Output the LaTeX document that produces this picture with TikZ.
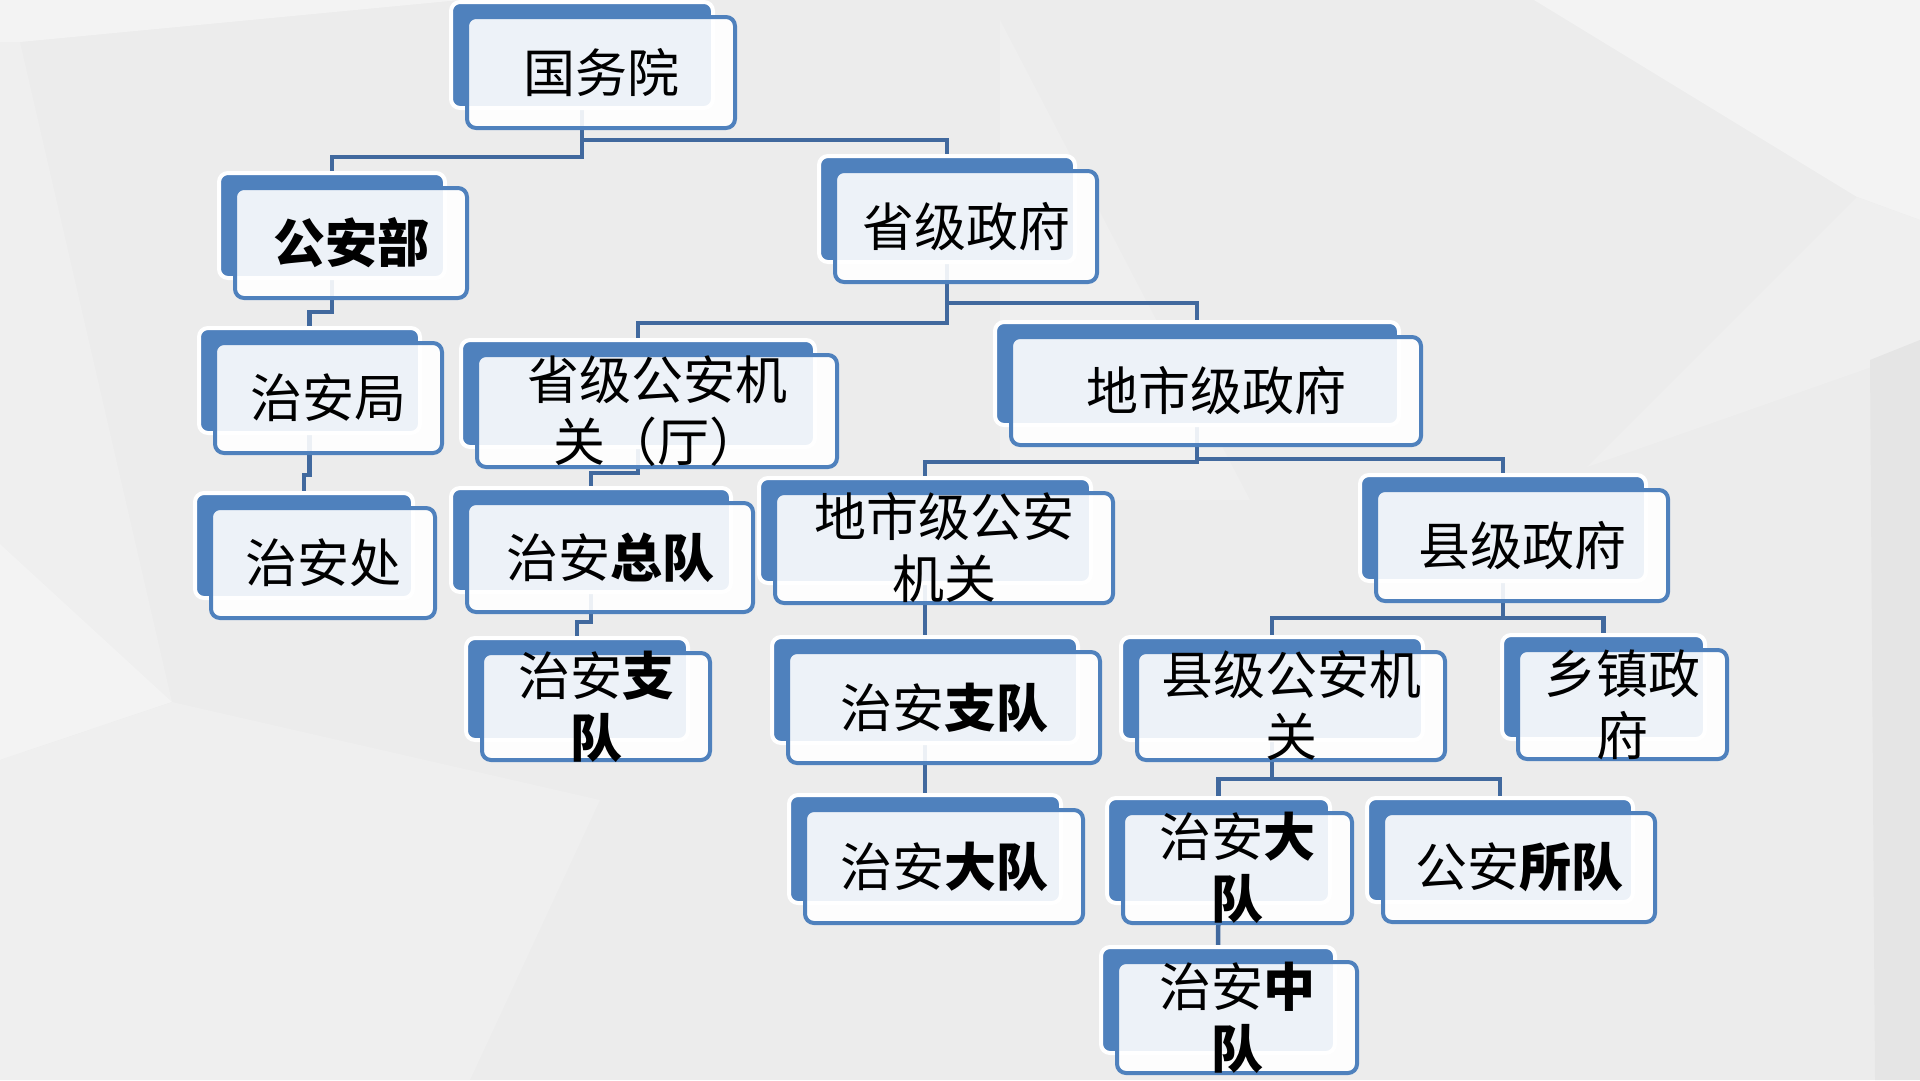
\documentclass[tikz,border=0pt]{standalone}
\usepackage{fontspec}
\setmainfont{Noto Sans CJK SC}
\definecolor{boxblue}{HTML}{4F81BD}
\definecolor{linkblue}{HTML}{41699E}
\definecolor{bggray}{HTML}{ECECEC}
\definecolor{bglight}{HTML}{F3F3F3}
\definecolor{bgmid}{HTML}{EFEFEF}
\definecolor{bgdark}{HTML}{E5E5E5}
\pgfdeclarelayer{bglayer}
\pgfdeclarelayer{connlayer}
\pgfsetlayers{bglayer,connlayer,main}
\tikzset{
  backbox/.style={draw=white, line width=4pt, fill=boxblue, rounded corners=9pt, inner sep=0pt, outer sep=0pt},
  frontbox/.style={draw=boxblue, line width=4pt, fill=white, fill opacity=0.9, rounded corners=9pt, inner sep=0pt, outer sep=0pt},
  boxtext/.style={align=center, inner sep=0pt, font=\fontsize{52}{62}\selectfont, text=black},
  link/.style={draw=linkblue, line width=4.5pt}
}
\newcommand\orgbox[6]{%
  \node[backbox, minimum width={#3-#2-6}, minimum height={#5-#4-5}] (#1) at ({(#2+#3)/2-19},{(#4+#5)/2-17.5}) {};
  \node[frontbox, minimum width={#3-#2}, minimum height={#5-#4}] (#1-f) at ({(#2+#3)/2},{(#4+#5)/2}) {};
  \node[boxtext] (#1-t) at (#1-f.center) {#6};
}
\begin{document}
\begin{tikzpicture}[x=1pt,y=-1pt]
\useasboundingbox (0,0) rectangle (1920,1080);
\begin{pgfonlayer}{bglayer}
  \fill[bggray] (0,0) rectangle (1920,1080);
  \fill[bglight] (0,0) -- (460,0) -- (20,42) -- (0,42) -- cycle;
  \fill[bgmid] (20,42) -- (172,702) -- (0,544) -- (0,42) -- cycle;
  \fill[bglight] (0,544) -- (172,702) -- (0,760) -- cycle;
  \fill[bgmid] (172,702) -- (600,800) -- (470,1080) -- (0,1080) -- (0,760) -- cycle;
  \fill[bgmid] (1000,20) -- (1250,500) -- (1000,500) -- cycle;
  \fill[bglight] (1534,0) -- (1920,0) -- (1920,220) -- (1857,197) -- cycle;
  \fill[bgmid] (1857,197) -- (1920,220) -- (1920,350) -- (1587,467) -- cycle;
  \fill[bgdark] (1870,360) -- (1920,340) -- (1920,1080) -- (1875,1080) -- cycle;
\end{pgfonlayer}

\orgbox{gwy}{467}{735}{17}{128}{国务院}
\orgbox{gab}{235}{467}{188}{298}{\textbf{公安部}}
\orgbox{sjzf}{835}{1097}{171}{282}{省级政府}
\orgbox{zaj}{215}{442}{343}{453}{治安局}
\orgbox{sga}{477}{837}{355}{467}{省级公安机\\关（厅）}
\orgbox{dszf}{1011}{1421}{337}{445}{地市级政府}
\orgbox{zac}{211}{435}{508}{618}{治安处}
\orgbox{zazd}{467}{753}{503}{612}{治安\textbf{总队}}
\orgbox{dsga}{775}{1113}{493}{603}{地市级公安\\机关}
\orgbox{xjzf}{1376}{1668}{490}{601}{县级政府}
\orgbox{zazhia}{482}{710}{653}{760}{治安\textbf{支}\\\textbf{队}}
\orgbox{zazhib}{788}{1100}{652}{763}{治安\textbf{支队}}
\orgbox{xjga}{1137}{1445}{652}{760}{县级公安机\\关}
\orgbox{xzzf}{1518}{1727}{650}{759}{乡镇政\\府}
\orgbox{zadda}{805}{1083}{810}{923}{治安\textbf{大队}}
\orgbox{zaddb}{1123}{1352}{813}{923}{治安\textbf{大}\\\textbf{队}}
\orgbox{gasd}{1383}{1655}{813}{922}{公安\textbf{所队}}
\orgbox{zazz}{1117}{1357}{962}{1073}{治安\textbf{中}\\\textbf{队}}

\begin{pgfonlayer}{connlayer}
  \draw[link] (gwy.south) -- ++(0,49) -| (gab.north);
  \draw[link] (gwy.south) -- ++(0,32) -| (sjzf.north);
  \draw[link] (gab.south) -- ++(0,34) -| (zaj.north);
  \draw[link] (zaj.south) -- ++(0,42) -| (zac.north);
  \draw[link] (sjzf.south) -- ++(0,61) -| (sga.north);
  \draw[link] (sjzf.south) -- ++(0,41) -| (dszf.north);
  \draw[link] (sga.south) -- ++(0,26) -| (zazd.north);
  \draw[link] (zazd.south) -- ++(0,30) -| (zazhia.north);
  \draw[link] (dszf.south) -- ++(0,37) -| (dsga.north);
  \draw[link] (dszf.south) -- ++(0,34) -| (xjzf.north);
  \draw[link] (dsga.south) -- (zazhib.north);
  \draw[link] (xjzf.south) -- ++(0,37) -| (xjga.north);
  \draw[link] (xjzf.south) -- ++(0,37) -| (xzzf.north);
  \draw[link] (zazhib.south) -- (zadda.north);
  \draw[link] (xjga.south) -- ++(0,39) -| (zaddb.north);
  \draw[link] (xjga.south) -- ++(0,39) -| (gasd.north);
  \draw[link] (zaddb.south) -- (zazz.north);
\end{pgfonlayer}
\end{tikzpicture}
\end{document}
